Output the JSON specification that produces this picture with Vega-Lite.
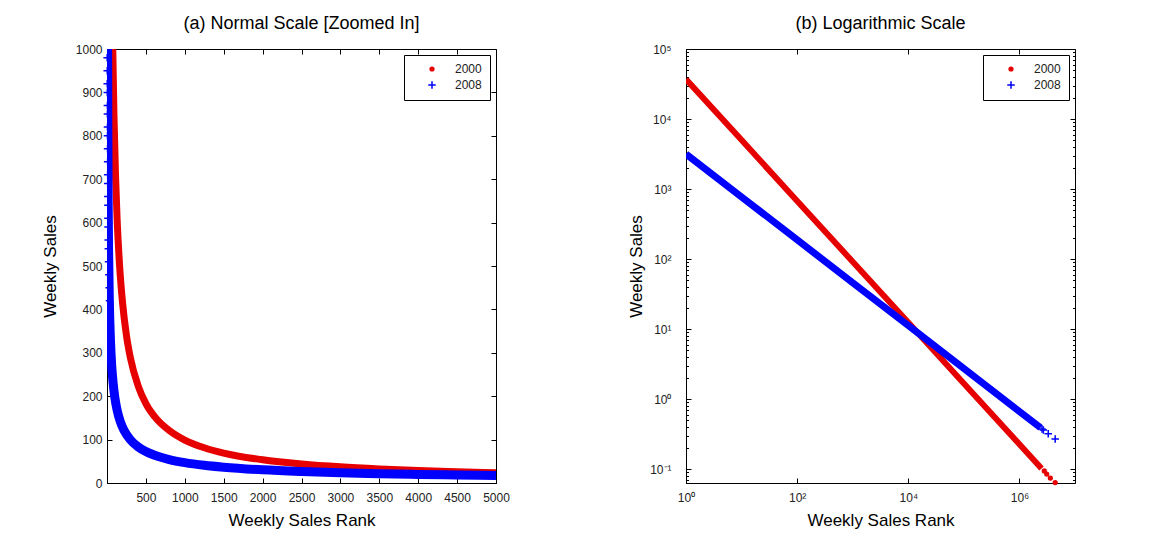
{
  "$schema": "https://vega.github.io/schema/vega-lite/v6.json",
  "background": "white",
  "padding": {"left": 40, "top": 14, "right": 10, "bottom": 5},
  "spacing": 117,
  "config": {
    "font": "Liberation Sans",
    "view": {"stroke": "black", "strokeWidth": 1},
    "axis": {"grid": false, "domainColor": "black", "tickColor": "black", "labelColor": "#222", "labelFontSize": 12, "titleFontSize": 17, "titleFontWeight": "normal", "titleColor": "black", "tickSize": -5, "labelPadding": 9, "labelOverlap": false, "labelFlush": false, "labelFont": "Liberation Sans", "titleFont": "Liberation Sans"},
    "title": {"fontSize": 18, "fontWeight": "normal", "color": "black", "offset": 10, "font": "Liberation Sans"}
  },
  "resolve": {"scale": {"fill": "independent", "stroke": "independent", "shape": "independent", "size": "independent"}},
  "datasets": {
    "left_line": [
      {"rank": 60, "sales": 1211, "year": "2000"}, {"rank": 75, "sales": 993, "year": "2000"}, {"rank": 90, "sales": 844, "year": "2000"}, {"rank": 110, "sales": 706, "year": "2000"}, {"rank": 130, "sales": 608, "year": "2000"}, {"rank": 160, "sales": 506, "year": "2000"}, {"rank": 200, "sales": 415, "year": "2000"}, {"rank": 250, "sales": 340, "year": "2000"}, {"rank": 300, "sales": 289, "year": "2000"}, {"rank": 400, "sales": 224, "year": "2000"}, {"rank": 500, "sales": 183, "year": "2000"}, {"rank": 650, "sales": 145, "year": "2000"}, {"rank": 800, "sales": 121, "year": "2000"}, {"rank": 1000, "sales": 99, "year": "2000"}, {"rank": 1250, "sales": 81.2, "year": "2000"}, {"rank": 1500, "sales": 69.0, "year": "2000"}, {"rank": 2000, "sales": 53.4, "year": "2000"}, {"rank": 2500, "sales": 43.8, "year": "2000"}, {"rank": 3000, "sales": 37.2, "year": "2000"}, {"rank": 3500, "sales": 32.5, "year": "2000"}, {"rank": 4000, "sales": 28.8, "year": "2000"}, {"rank": 4500, "sales": 26.0, "year": "2000"}, {"rank": 5000, "sales": 23.6, "year": "2000"},
      {"rank": 5, "sales": 1288, "year": "2008"}, {"rank": 7, "sales": 1043, "year": "2008"}, {"rank": 10, "sales": 835, "year": "2008"}, {"rank": 15, "sales": 648, "year": "2008"}, {"rank": 20, "sales": 541, "year": "2008"}, {"rank": 30, "sales": 420, "year": "2008"}, {"rank": 45, "sales": 326, "year": "2008"}, {"rank": 60, "sales": 272, "year": "2008"}, {"rank": 80, "sales": 228, "year": "2008"}, {"rank": 100, "sales": 198, "year": "2008"}, {"rank": 130, "sales": 168, "year": "2008"}, {"rank": 170, "sales": 142, "year": "2008"}, {"rank": 220, "sales": 121, "year": "2008"}, {"rank": 300, "sales": 99.7, "year": "2008"}, {"rank": 400, "sales": 83.2, "year": "2008"}, {"rank": 500, "sales": 72.4, "year": "2008"}, {"rank": 650, "sales": 61.5, "year": "2008"}, {"rank": 800, "sales": 54.0, "year": "2008"}, {"rank": 1000, "sales": 47.0, "year": "2008"}, {"rank": 1250, "sales": 40.8, "year": "2008"}, {"rank": 1500, "sales": 36.4, "year": "2008"}, {"rank": 2000, "sales": 30.4, "year": "2008"}, {"rank": 2500, "sales": 26.5, "year": "2008"}, {"rank": 3000, "sales": 23.6, "year": "2008"}, {"rank": 3500, "sales": 21.5, "year": "2008"}, {"rank": 4000, "sales": 19.7, "year": "2008"}, {"rank": 4500, "sales": 18.3, "year": "2008"}, {"rank": 5000, "sales": 17.2, "year": "2008"}
    ],
    "left_pts": [
      {"rank": 2, "sales": 980, "year": "2008"}, {"rank": 3, "sales": 950, "year": "2008"}, {"rank": 3, "sales": 920, "year": "2008"}, {"rank": 4, "sales": 900, "year": "2008"}, {"rank": 5, "sales": 870, "year": "2008"}, {"rank": 5, "sales": 850, "year": "2008"}, {"rank": 6, "sales": 820, "year": "2008"}, {"rank": 6, "sales": 800, "year": "2008"}, {"rank": 7, "sales": 770, "year": "2008"}, {"rank": 8, "sales": 740, "year": "2008"}, {"rank": 8, "sales": 710, "year": "2008"}, {"rank": 9, "sales": 690, "year": "2008"}, {"rank": 10, "sales": 660, "year": "2008"}, {"rank": 11, "sales": 640, "year": "2008"}, {"rank": 12, "sales": 610, "year": "2008"}, {"rank": 13, "sales": 590, "year": "2008"}, {"rank": 15, "sales": 560, "year": "2008"}, {"rank": 17, "sales": 540, "year": "2008"}, {"rank": 20, "sales": 510, "year": "2008"}, {"rank": 24, "sales": 480, "year": "2008"}, {"rank": 28, "sales": 450, "year": "2008"}, {"rank": 32, "sales": 420, "year": "2008"}
    ],
    "right_line": [
      {"rank": 1, "sales": 37000, "year": "2000"}, {"rank": 10, "sales": 5000, "year": "2000"}, {"rank": 100, "sales": 676, "year": "2000"}, {"rank": 1000, "sales": 91.4, "year": "2000"}, {"rank": 10000, "sales": 12.4, "year": "2000"}, {"rank": 100000, "sales": 1.67, "year": "2000"}, {"rank": 1000000, "sales": 0.226, "year": "2000"}, {"rank": 2500000, "sales": 0.102, "year": "2000"},
      {"rank": 1, "sales": 3160, "year": "2008"}, {"rank": 10, "sales": 770, "year": "2008"}, {"rank": 100, "sales": 188, "year": "2008"}, {"rank": 1000, "sales": 45.8, "year": "2008"}, {"rank": 10000, "sales": 11.2, "year": "2008"}, {"rank": 100000, "sales": 2.72, "year": "2008"}, {"rank": 1000000, "sales": 0.663, "year": "2008"}, {"rank": 2400000, "sales": 0.388, "year": "2008"}
    ],
    "right_pts": [
      {"rank": 2800000, "sales": 0.094, "year": "2000"}, {"rank": 3100000, "sales": 0.0847, "year": "2000"}, {"rank": 3600000, "sales": 0.0743, "year": "2000"}, {"rank": 4400000, "sales": 0.064, "year": "2000"},
      {"rank": 2550000, "sales": 0.374, "year": "2008"}, {"rank": 2700000, "sales": 0.361, "year": "2008"}, {"rank": 3300000, "sales": 0.319, "year": "2008"}, {"rank": 4400000, "sales": 0.268, "year": "2008"}
    ]
  },
  "hconcat": [
    {
      "width": 389,
      "height": 434,
      "title": {"text": "(a) Normal Scale [Zoomed In]"},
      "resolve": {"axis": {"x": "independent", "y": "independent"}},
      "layer": [
        {
          "data": {"name": "left_line"},
          "transform": [{"filter": "datum.year == '2000'"}],
          "mark": {"type": "line", "color": "#e60000", "strokeWidth": 7, "clip": true, "interpolate": "monotone"},
          "encoding": {
            "x": {"field": "rank", "type": "quantitative", "scale": {"domain": [0, 5000], "nice": false, "zero": false}, "axis": {"orient": "bottom", "title": "Weekly Sales Rank", "values": [500, 1000, 1500, 2000, 2500, 3000, 3500, 4000, 4500, 5000], "format": "d", "labelPadding": 14, "titlePadding": 9}},
            "y": {"field": "sales", "type": "quantitative", "scale": {"domain": [0, 1000], "nice": false}, "axis": {"orient": "left", "title": "Weekly Sales", "values": [0, 100, 200, 300, 400, 500, 600, 700, 800, 900, 1000], "format": "d", "labelPadding": 10, "titlePadding": 16}}
          }
        },
        {
          "data": {"name": "left_line"},
          "transform": [{"filter": "datum.year == '2008'"}],
          "mark": {"type": "line", "color": "#0000ff", "strokeWidth": 9, "clip": true, "interpolate": "monotone"},
          "encoding": {
            "x": {"field": "rank", "type": "quantitative", "axis": null},
            "y": {"field": "sales", "type": "quantitative", "axis": null}
          }
        },
        {
          "data": {"name": "left_pts"},
          "mark": {"type": "point", "filled": true, "strokeWidth": 1.5, "opacity": 1},
          "encoding": {
            "x": {"field": "rank", "type": "quantitative", "axis": null},
            "y": {"field": "sales", "type": "quantitative", "axis": null},
            "fill": {"field": "year", "type": "nominal", "scale": {"domain": ["2000", "2008"], "range": ["#e60000", "#0000ff"]}, "legend": {"title": null, "orient": "top-right", "offset": 6, "strokeColor": "black", "fillColor": "white", "padding": 8, "labelFontSize": 12, "labelColor": "#222", "symbolOffset": 14, "labelOffset": 17, "rowPadding": 3, "symbolStrokeWidth": 1.5}},
            "stroke": {"field": "year", "type": "nominal", "scale": {"domain": ["2000", "2008"], "range": ["#e60000", "#0000ff"]}, "legend": {"title": null, "orient": "top-right", "offset": 6, "strokeColor": "black", "fillColor": "white", "padding": 8, "labelFontSize": 12, "labelColor": "#222", "symbolOffset": 14, "labelOffset": 17, "rowPadding": 3, "symbolStrokeWidth": 1.5}},
            "shape": {"field": "year", "type": "nominal", "scale": {"domain": ["2000", "2008"], "range": ["circle", "M-1,0L1,0M0,-1L0,1"]}, "legend": {"title": null, "orient": "top-right", "offset": 6, "strokeColor": "black", "fillColor": "white", "padding": 8, "labelFontSize": 12, "labelColor": "#222", "symbolOffset": 14, "labelOffset": 17, "rowPadding": 3, "symbolStrokeWidth": 1.5}},
            "size": {"field": "year", "type": "nominal", "scale": {"domain": ["2000", "2008"], "range": [14, 56]}, "legend": {"title": null, "orient": "top-right", "offset": 6, "strokeColor": "black", "fillColor": "white", "padding": 8, "labelFontSize": 12, "labelColor": "#222", "symbolOffset": 14, "labelOffset": 17, "rowPadding": 3, "symbolStrokeWidth": 1.5}}
          }
        },
        {
          "data": {"name": "left_pts"},
          "mark": {"type": "point", "opacity": 0, "clip": true},
          "encoding": {
            "x": {"field": "rank", "type": "quantitative", "axis": {"orient": "top", "labels": false, "title": null, "domain": false, "values": [500, 1000, 1500, 2000, 2500, 3000, 3500, 4000, 4500, 5000]}},
            "y": {"field": "sales", "type": "quantitative", "axis": {"orient": "right", "labels": false, "title": null, "domain": false, "values": [0, 100, 200, 300, 400, 500, 600, 700, 800, 900, 1000]}}
          }
        }
      ]
    },
    {
      "width": 389,
      "height": 434,
      "title": {"text": "(b) Logarithmic Scale"},
      "resolve": {"axis": {"x": "independent", "y": "independent"}},
      "layer": [
        {
          "data": {"name": "right_line"},
          "transform": [{"filter": "datum.year == '2000'"}],
          "mark": {"type": "line", "color": "#e60000", "strokeWidth": 6, "clip": true},
          "encoding": {
            "x": {"field": "rank", "type": "quantitative", "scale": {"type": "log", "domain": [1, 10000000], "nice": false}, "axis": {"orient": "bottom", "title": "Weekly Sales Rank", "values": [1, 100, 10000, 1000000], "labelExpr": "datum.value < 10 ? '10⁰' : datum.value < 1000 ? '10²' : datum.value < 100000 ? '10⁴' : '10⁶'", "labelPadding": 14, "titlePadding": 9}},
            "y": {"field": "sales", "type": "quantitative", "scale": {"type": "log", "domain": [0.0631, 100000], "nice": false}, "axis": {"orient": "left", "title": "Weekly Sales", "values": [0.1, 1, 10, 100, 1000, 10000, 100000], "labelExpr": "datum.value < 0.5 ? '10⁻¹' : datum.value < 5 ? '10⁰' : datum.value < 50 ? '10¹' : datum.value < 500 ? '10²' : datum.value < 5000 ? '10³' : datum.value < 50000 ? '10⁴' : '10⁵'", "labelPadding": 20, "titlePadding": 4}}
          }
        },
        {
          "data": {"name": "right_line"},
          "transform": [{"filter": "datum.year == '2008'"}],
          "mark": {"type": "line", "color": "#0000ff", "strokeWidth": 7, "clip": true},
          "encoding": {
            "x": {"field": "rank", "type": "quantitative", "axis": null},
            "y": {"field": "sales", "type": "quantitative", "axis": null}
          }
        },
        {
          "data": {"name": "right_pts"},
          "mark": {"type": "point", "filled": true, "strokeWidth": 1.5, "opacity": 1},
          "encoding": {
            "x": {"field": "rank", "type": "quantitative", "axis": null},
            "y": {"field": "sales", "type": "quantitative", "axis": null},
            "fill": {"field": "year", "type": "nominal", "scale": {"domain": ["2000", "2008"], "range": ["#e60000", "#0000ff"]}, "legend": {"title": null, "orient": "top-right", "offset": 6, "strokeColor": "black", "fillColor": "white", "padding": 8, "labelFontSize": 12, "labelColor": "#222", "symbolOffset": 14, "labelOffset": 17, "rowPadding": 3, "symbolStrokeWidth": 1.5}},
            "stroke": {"field": "year", "type": "nominal", "scale": {"domain": ["2000", "2008"], "range": ["#e60000", "#0000ff"]}, "legend": {"title": null, "orient": "top-right", "offset": 6, "strokeColor": "black", "fillColor": "white", "padding": 8, "labelFontSize": 12, "labelColor": "#222", "symbolOffset": 14, "labelOffset": 17, "rowPadding": 3, "symbolStrokeWidth": 1.5}},
            "shape": {"field": "year", "type": "nominal", "scale": {"domain": ["2000", "2008"], "range": ["circle", "M-1,0L1,0M0,-1L0,1"]}, "legend": {"title": null, "orient": "top-right", "offset": 6, "strokeColor": "black", "fillColor": "white", "padding": 8, "labelFontSize": 12, "labelColor": "#222", "symbolOffset": 14, "labelOffset": 17, "rowPadding": 3, "symbolStrokeWidth": 1.5}},
            "size": {"field": "year", "type": "nominal", "scale": {"domain": ["2000", "2008"], "range": [14, 56]}, "legend": {"title": null, "orient": "top-right", "offset": 6, "strokeColor": "black", "fillColor": "white", "padding": 8, "labelFontSize": 12, "labelColor": "#222", "symbolOffset": 14, "labelOffset": 17, "rowPadding": 3, "symbolStrokeWidth": 1.5}}
          }
        },
        {
          "data": {"name": "right_line"},
          "mark": {"type": "point", "opacity": 0, "clip": true},
          "encoding": {
            "x": {"field": "rank", "type": "quantitative", "axis": {"orient": "top", "labels": false, "title": null, "domain": false, "values": [1, 100, 10000, 1000000]}},
            "y": {"field": "sales", "type": "quantitative", "axis": {"orient": "right", "labels": false, "title": null, "domain": false, "values": [0.1, 1, 10, 100, 1000, 10000, 100000]}}
          }
        },
        {
          "data": {"name": "right_line"},
          "mark": {"type": "point", "opacity": 0, "clip": true},
          "encoding": {
            "x": {"field": "rank", "type": "quantitative", "axis": null},
            "y": {"field": "sales", "type": "quantitative", "axis": {"orient": "left", "labels": false, "title": null, "domain": false, "tickSize": -2.5, "values": [0.07, 0.08, 0.09, 0.2, 0.3, 0.4, 0.5, 0.6, 0.7, 0.8, 0.9, 2, 3, 4, 5, 6, 7, 8, 9, 20, 30, 40, 50, 60, 70, 80, 90, 200, 300, 400, 500, 600, 700, 800, 900, 2000, 3000, 4000, 5000, 6000, 7000, 8000, 9000, 20000, 30000, 40000, 50000, 60000, 70000, 80000, 90000]}}
          }
        },
        {
          "data": {"name": "right_line"},
          "mark": {"type": "point", "opacity": 0, "clip": true},
          "encoding": {
            "x": {"field": "rank", "type": "quantitative", "axis": null},
            "y": {"field": "sales", "type": "quantitative", "axis": {"orient": "right", "labels": false, "title": null, "domain": false, "tickSize": -2.5, "values": [0.07, 0.08, 0.09, 0.2, 0.3, 0.4, 0.5, 0.6, 0.7, 0.8, 0.9, 2, 3, 4, 5, 6, 7, 8, 9, 20, 30, 40, 50, 60, 70, 80, 90, 200, 300, 400, 500, 600, 700, 800, 900, 2000, 3000, 4000, 5000, 6000, 7000, 8000, 9000, 20000, 30000, 40000, 50000, 60000, 70000, 80000, 90000]}}
          }
        }
      ]
    }
  ]
}
